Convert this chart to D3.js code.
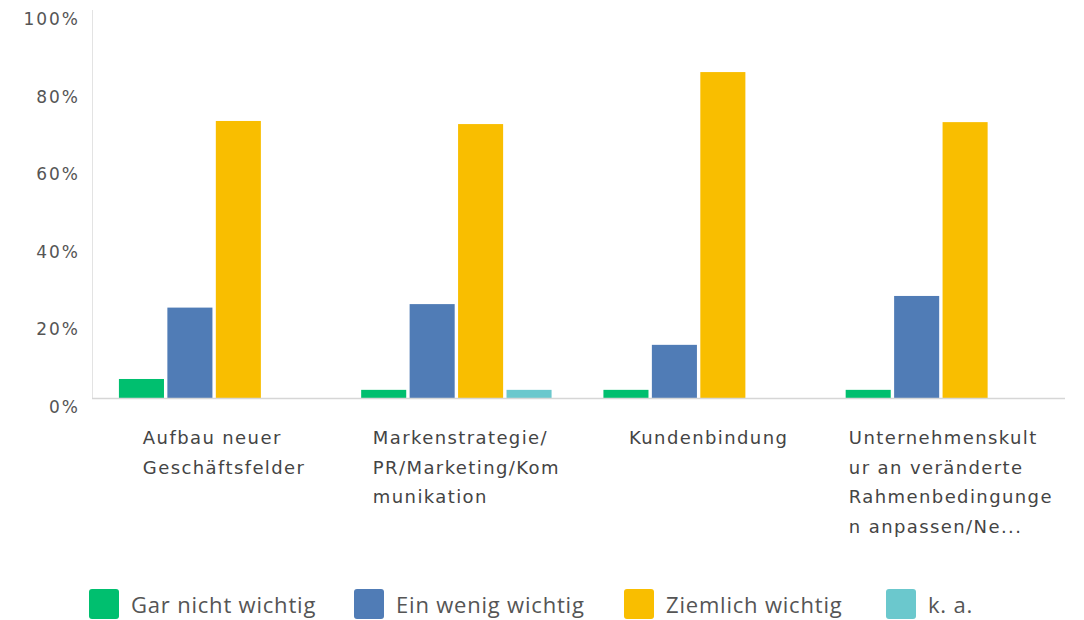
<!DOCTYPE html>
<html>
<head>
<meta charset="utf-8">
<script src="https://cdn.jsdelivr.net/npm/d3@7"></script>
<style>
  body { margin: 0; background: #fff; }
  svg { display: block; }
  .tick-label { font-family: "DejaVu Sans", sans-serif; font-size: 17px; letter-spacing: 2px; fill: #555; }
  .cat-label { font-family: "DejaVu Sans", sans-serif; font-size: 18px; letter-spacing: 1.4px; fill: #444; }
  .legend-label { font-family: "Open Sans", sans-serif; font-size: 22px; letter-spacing: 0.8px; fill: #555; }
</style>
</head>
<body>
<svg id="chart"></svg>
<script>
const categories = [
  "Aufbau neuer Geschäftsfelder",
  "Markenstrategie/PR/Marketing/Kommunikation",
  "Kundenbindung",
  "Unternehmenskultur an veränderte Rahmenbedingungen anpassen/Ne..."
];

const categoryLines = [
  ["Aufbau neuer", "Geschäftsfelder"],
  ["Markenstrategie/", "PR/Marketing/Kom", "munikation"],
  ["Kundenbindung"],
  ["Unternehmenskult", "ur an veränderte", "Rahmenbedingunge", "n anpassen/Ne..."]
];

const series = ["Gar nicht wichtig", "Ein wenig wichtig", "Ziemlich wichtig", "k. a."];
const colors = ["#00bf6f", "#507cb6", "#f9be00", "#6bc8cd"];

// percent per category, one array per series
const garNicht = [4.9, 2.1, 2.1, 2.1];
const einWenig = [23.3, 24.2, 13.7, 26.3];
const ziemlich = [71.4, 70.6, 84.0, 71.1];
const keineAngabe = [0, 2.1, 0, 0];

const yTicks = [0, 20, 40, 60, 80, 100];

(function() {
  const width = 1084,
    height = 620;

  const values = [garNicht, einWenig, ziemlich, keineAngabe];
  const legendX = [89, 354, 624, 886];

  const svg = d3.select("#chart")
    .attr("width", width)
    .attr("height", height);

  const x0 = d3.scaleBand()
    .domain(categories)
    .range([93, 1062])
    .paddingInner(0.214)
    .paddingOuter(0.107);

  const x1 = d3.scaleBand()
    .domain(series)
    .range([0, x0.bandwidth()])
    .paddingInner(0.07);

  const y = d3.scaleLinear()
    .domain([0, 100])
    .range([398, 10]);

  svg.append("line")
    .attr("x1", 92.5).attr("x2", 92.5)
    .attr("y1", 10).attr("y2", 399)
    .attr("stroke", "#e3e3e3")
    .attr("stroke-width", 1);

  svg.selectAll(".tick-label")
    .data(yTicks)
    .enter()
    .append("text")
    .attr("class", "tick-label")
    .attr("x", 80)
    .attr("y", d => y(d) + 15)
    .attr("text-anchor", "end")
    .text(d => d + "%");

  const groups = svg.selectAll(".group")
    .data(categories)
    .enter()
    .append("g")
    .attr("class", "group")
    .attr("transform", d => "translate(" + x0(d) + ",0)");

  groups.selectAll("rect")
    .data((d, i) => series.map((s, j) => ({ s: s, v: values[j][i], c: colors[j] })))
    .enter()
    .append("rect")
    .attr("x", d => x1(d.s))
    .attr("width", x1.bandwidth())
    .attr("y", d => y(d.v))
    .attr("height", d => y(0) - y(d.v))
    .attr("fill", d => d.c);

  svg.append("line")
    .attr("x1", 92).attr("x2", 1065)
    .attr("y1", 398.5).attr("y2", 398.5)
    .attr("stroke", "#d6d6d6")
    .attr("stroke-width", 1.5);

  // category labels, block centred a bit right of the group centre
  categories.forEach((c, i) => {
    const g = svg.append("g");
    const t = g.append("text").attr("class", "cat-label");
    categoryLines[i].forEach((line, k) => {
      t.append("tspan")
        .attr("x", 0)
        .attr("y", 444 + k * 29.7)
        .text(line);
    });
    const w = t.node().getBBox().width;
    const cx = x0(c) + x0.bandwidth() / 2 + 10;
    g.attr("transform", "translate(" + (cx - w / 2) + ",0)");
  });

  // legend
  const legend = svg.append("g");
  series.forEach((s, i) => {
    legend.append("rect")
      .attr("x", legendX[i])
      .attr("y", 589)
      .attr("width", 30)
      .attr("height", 30)
      .attr("rx", 3)
      .attr("fill", colors[i]);
    legend.append("text")
      .attr("class", "legend-label")
      .attr("x", legendX[i] + 42)
      .attr("y", 613)
      .text(s);
  });
})();
</script>
</body>
</html>
